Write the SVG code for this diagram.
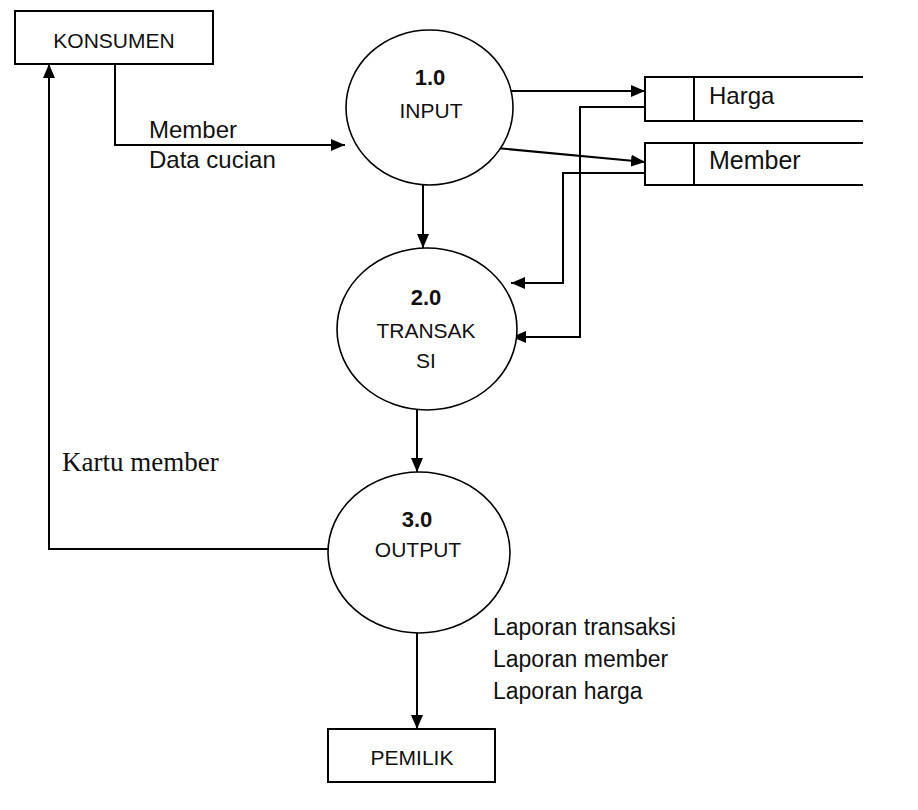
<svg xmlns="http://www.w3.org/2000/svg" width="918" height="810" viewBox="0 0 918 810">
<style>
.box{fill:#fff;stroke:#000;stroke-width:2}
.proc{fill:#fff;stroke:#000;stroke-width:1.6}
.line{fill:none;stroke:#000;stroke-width:2}
.t{font-family:"Liberation Sans",Arial,sans-serif;font-size:21px;fill:#111}
.b{font-weight:bold;font-size:22px}
.lbl{font-family:"Liberation Sans",Arial,sans-serif;fill:#111}
.serif{font-family:"Liberation Serif","Times New Roman",serif;font-size:27px;fill:#111}
</style>
<defs>
<marker id="arr" viewBox="0 0 14 12" refX="14" refY="6" markerWidth="14" markerHeight="12" markerUnits="userSpaceOnUse" orient="auto">
<path d="M0,0 L14,6 L0,12 Z" fill="#000"/>
</marker>
</defs>
<rect width="918" height="810" fill="#fff"/>

<g id="connectors">
<polyline class="line" points="115,64 115,145 345,145" marker-end="url(#arr)"/>
<line class="line" x1="510" y1="91" x2="645" y2="91" marker-end="url(#arr)"/>
<line class="line" x1="496" y1="148" x2="645" y2="162" marker-end="url(#arr)"/>
<polyline class="line" points="645,107 580,107 580,337 512,337" marker-end="url(#arr)"/>
<polyline class="line" points="645,173 563,173 563,283 511,283" marker-end="url(#arr)"/>
<line class="line" x1="423" y1="185" x2="423" y2="248" marker-end="url(#arr)"/>
<line class="line" x1="417" y1="410" x2="417" y2="472" marker-end="url(#arr)"/>
<polyline class="line" points="328,549 49,549 49,64" marker-end="url(#arr)"/>
<line class="line" x1="417" y1="633" x2="417" y2="729" marker-end="url(#arr)"/>
</g>

<g id="konsumen">
<rect class="box" x="15" y="11" width="198" height="53"/>
<text class="t" x="114" y="48" text-anchor="middle">KONSUMEN</text>
</g>

<g id="p1">
<ellipse class="proc" cx="429.5" cy="107.5" rx="83.5" ry="77.5"/>
<text class="t b" x="430" y="85" text-anchor="middle">1.0</text>
<text class="t" x="431" y="118" text-anchor="middle">INPUT</text>
</g>

<g id="p2">
<ellipse class="proc" cx="427" cy="329" rx="90" ry="81"/>
<text class="t b" x="426" y="305" text-anchor="middle">2.0</text>
<text class="t" x="426" y="338" text-anchor="middle">TRANSAK</text>
<text class="t" x="426" y="368" text-anchor="middle">SI</text>
</g>

<g id="p3">
<ellipse class="proc" cx="419" cy="552.5" rx="91" ry="80.5"/>
<text class="t b" x="417" y="527" text-anchor="middle">3.0</text>
<text class="t" x="418" y="557" text-anchor="middle">OUTPUT</text>
</g>

<g id="store-harga">
<path class="line" d="M863,77 L645,77 L645,121 L863,121 M694,77 L694,121"/>
<text class="lbl" x="709" y="104" font-size="24">Harga</text>
</g>

<g id="store-member">
<path class="line" d="M863,143 L645,143 L645,185 L863,185 M694,143 L694,185"/>
<text class="lbl" x="709" y="169" font-size="25">Member</text>
</g>

<g id="pemilik">
<rect class="box" x="328" y="729" width="167" height="53"/>
<text class="t" x="412" y="765" text-anchor="middle">PEMILIK</text>
</g>

<g id="labels">
<text class="lbl" x="149" y="138" font-size="24">Member</text>
<text class="lbl" x="149" y="168" font-size="24">Data cucian</text>
<text class="serif" x="62" y="471">Kartu member</text>
<text class="lbl" x="493" y="635" font-size="23">Laporan transaksi</text>
<text class="lbl" x="493" y="667" font-size="23">Laporan member</text>
<text class="lbl" x="493" y="699" font-size="23">Laporan harga</text>
</g>
</svg>
